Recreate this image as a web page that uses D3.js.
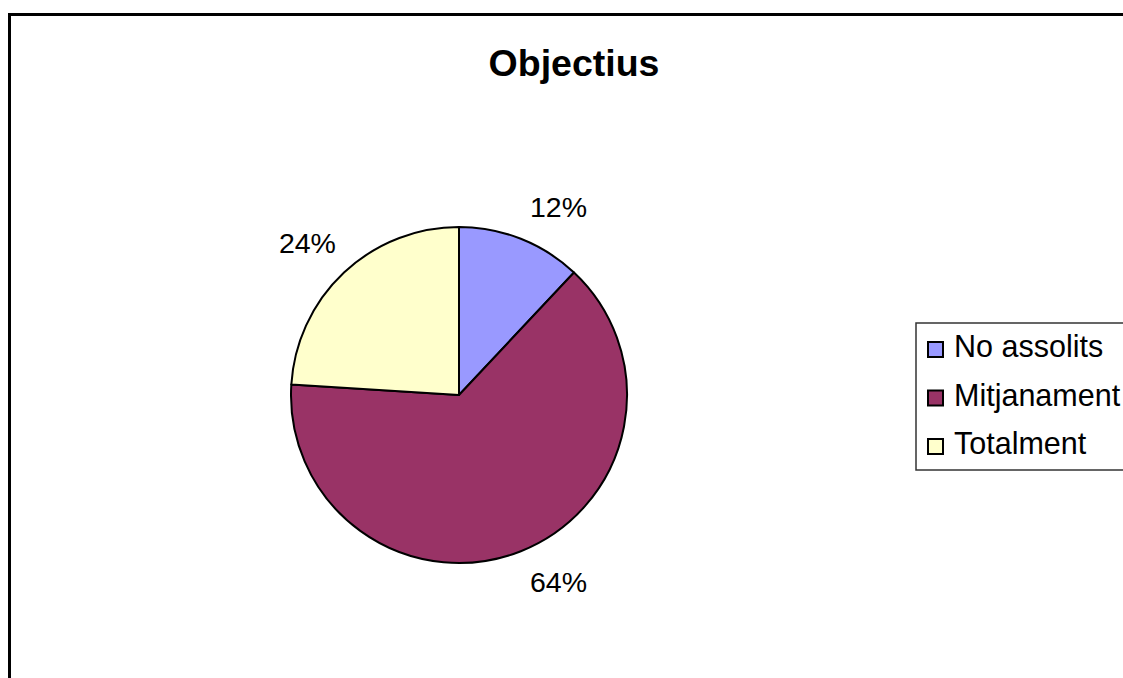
<!DOCTYPE html>
<html><head><meta charset="utf-8">
<script src="https://cdn.jsdelivr.net/npm/d3@7"></script>
<style>body{margin:0;background:#fff}svg{display:block}text{font-family:"Liberation Sans",Arial,sans-serif}</style>
</head><body><svg id="c" width="1123" height="678"></svg>
<script>
const categories = ["No assolits", "Mitjanament", "Totalment"];
const values = [12, 64, 24];
const labels = ["12%", "64%", "24%"];
const colors = ["#9999FF", "#993366", "#FFFFCC"];
const title = "Objectius";

const svg = d3.select("#c");
svg.append("rect").attr("x",9.5).attr("y",14.5).attr("width",1200).attr("height",800)
  .attr("fill","#fff").attr("stroke","#000").attr("stroke-width",3);
svg.append("text").attr("x",574).attr("y",76).attr("text-anchor","middle")
  .attr("font-size",37.5).attr("font-weight","bold").text(title);

const cx=459, cy=395, r=168;
const pie = d3.pie().sort(null).value(d=>d);
const arcs = pie(values);
const arc = d3.arc().innerRadius(0).outerRadius(r);
const labelArc = d3.arc().innerRadius(190).outerRadius(190);
const g = svg.append("g").attr("transform",`translate(${cx},${cy})`);
g.selectAll("path").data(arcs).join("path").attr("d",arc)
  .attr("fill",(d,i)=>colors[i]).attr("stroke","#000").attr("stroke-width",2).attr("stroke-linejoin","round");
const fs = 28.5;
g.selectAll("text").data(arcs).join("text")
  .each(function(d,i){
    const [x,y] = labelArc.centroid(d);
    const left = x < 0;
    d3.select(this).attr("x", left ? x+7 : x+1)
      .attr("y", y<0 ? y-(left ? 4 : 1) : y + fs*0.72)
      .attr("text-anchor", left ? "end" : "start");
  })
  .attr("font-size",fs)
  .text((d,i)=>labels[i]);

const lg = svg.append("g");
lg.append("rect").attr("x",916).attr("y",323).attr("width",300).attr("height",147)
  .attr("fill","#fff").attr("stroke","#333").attr("stroke-width",1.5);
const ly = d3.scalePoint().domain(categories).range([349.5,446.5]);
categories.forEach((c,i)=>{
  lg.append("rect").attr("x",928).attr("y",ly(c)-7.5).attr("width",15).attr("height",15)
    .attr("fill",colors[i]).attr("stroke","#000").attr("stroke-width",2);
  lg.append("text").attr("x",954).attr("y",ly(c)+7.5).attr("font-size",30.5).text(c);
});
</script></body></html>
